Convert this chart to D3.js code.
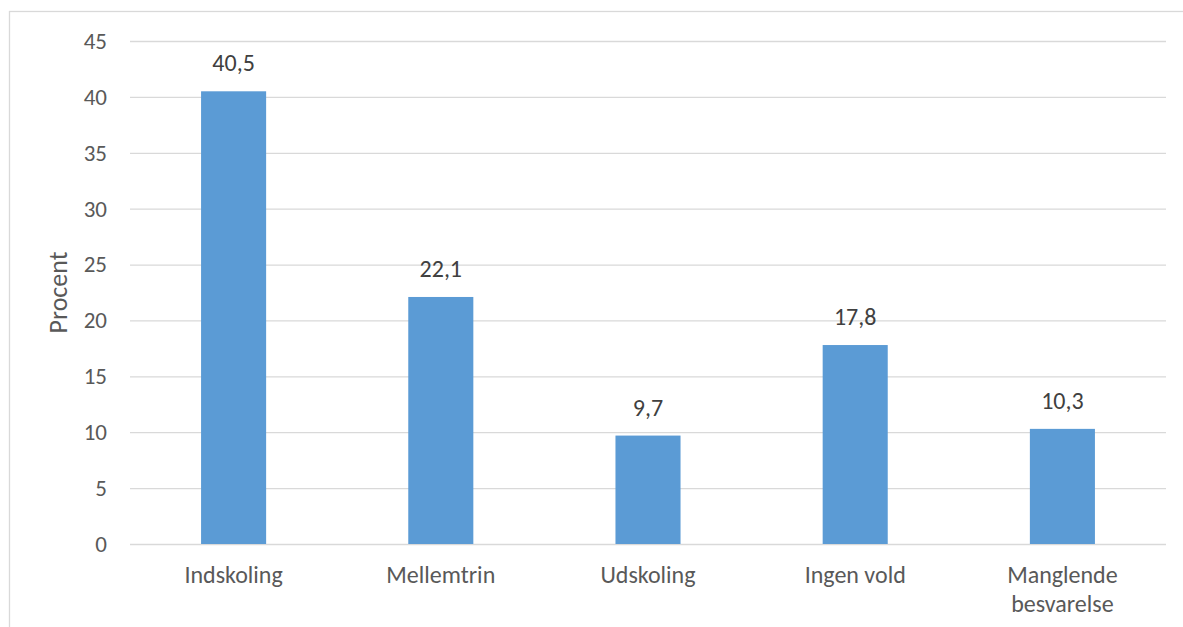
<!DOCTYPE html>
<html>
<head>
<meta charset="utf-8">
<script src="https://cdn.jsdelivr.net/npm/d3@7"></script>
<style>
  html, body { margin: 0; padding: 0; background: #fff; }
  svg { display: block; }
  text { font-family: Carlito, Lato, "Open Sans", sans-serif; }
</style>
</head>
<body>
<svg id="chart" width="1183" height="627"></svg>
<script>
const categories = ["Indskoling", "Mellemtrin", "Udskoling", "Ingen vold", "Manglende besvarelse"];
const values = [40.5, 22.1, 9.7, 17.8, 10.3];
const yTicks = [0, 5, 10, 15, 20, 25, 30, 35, 40, 45];
const yTitle = "Procent";

const svg = d3.select("#chart");
const W = 1183, H = 627;
const plot = { left: 130, right: 1166, top: 41, bottom: 544 };

// outer chart border
svg.append("rect")
  .attr("x", 9.5).attr("y", 11.5)
  .attr("width", W + 20).attr("height", H + 20)
  .attr("fill", "none").attr("stroke", "#d9d9d9").attr("stroke-width", 1.3);

const x = d3.scaleBand().domain(categories).range([plot.left, plot.right]).padding(0);
const y = d3.scaleLinear().domain([0, 45]).range([plot.bottom, plot.top]);
const barW = x.bandwidth() * 0.314;

// gridlines + y tick labels via axis
const yAxis = d3.axisLeft(y).tickValues(yTicks).tickSize(-(plot.right - plot.left)).tickPadding(23);
const gy = svg.append("g").attr("transform", `translate(${plot.left},0)`).call(yAxis);
gy.select(".domain").remove();
gy.selectAll(".tick line").attr("stroke", "#d9d9d9").attr("stroke-width", 1.3);
gy.selectAll(".tick text")
  .attr("fill", "#595959").attr("font-size", 23)
  .style("font-family", "Carlito, Lato, 'Open Sans', sans-serif");

// bars
svg.append("g").selectAll("rect").data(values).join("rect")
  .attr("x", (d, i) => x(categories[i]) + (x.bandwidth() - barW) / 2)
  .attr("y", d => y(d))
  .attr("width", barW)
  .attr("height", d => y(0) - y(d))
  .attr("fill", "#5b9bd5");

// value labels
svg.append("g").selectAll("text").data(values).join("text")
  .attr("x", (d, i) => x(categories[i]) + x.bandwidth() / 2)
  .attr("y", d => y(d) - 20)
  .attr("text-anchor", "middle")
  .attr("fill", "#404040").attr("font-size", 24)
  .text(d => d.toFixed(1).replace(".", ","));

// category labels (wrap at space for long label)
const wrapped = { "Manglende besvarelse": ["Manglende", "besvarelse"] };
const gx = svg.append("g");
categories.forEach(c => {
  const lines = wrapped[c] || [c];
  const t = gx.append("text")
    .attr("x", x(c) + x.bandwidth() / 2)
    .attr("y", 583)
    .attr("text-anchor", "middle")
    .attr("fill", "#595959").attr("font-size", 24);
  lines.forEach((l, k) => {
    t.append("tspan").attr("x", x(c) + x.bandwidth() / 2).attr("dy", k === 0 ? 0 : 29).text(l);
  });
});

// y axis title
svg.append("text")
  .attr("transform", `translate(67,${(plot.top + plot.bottom) / 2}) rotate(-90)`)
  .attr("text-anchor", "middle")
  .attr("fill", "#595959").attr("font-size", 26)
  .text(yTitle);
</script>
</body>
</html>
